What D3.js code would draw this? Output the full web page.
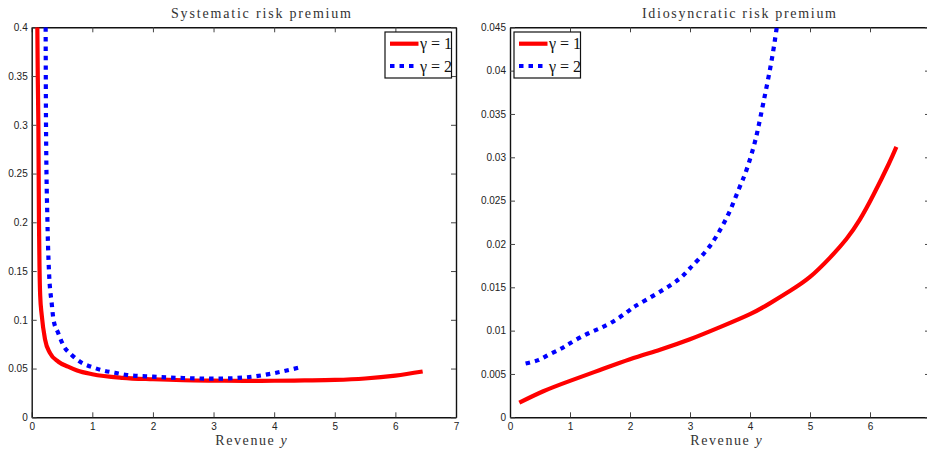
<!DOCTYPE html>
<html lang="en">
<head>
<meta charset="UTF-8">
<title>Risk premia</title>
<script src="https://d3js.org/d3.v7.min.js"></script>
<style>
    body { margin: 0; background: white; }
    svg { display: block; }
    .tick text { font-family: 'Liberation Sans', Arial, sans-serif; font-size: 10px; fill: #222; }
    .title { font-family: 'Liberation Serif', 'DejaVu Serif', serif; font-size: 14px; fill: #333; }
    .xlabel { font-family: 'Liberation Serif', 'DejaVu Serif', serif; font-size: 14px; fill: #333; }
    .legend-text { font-family: 'Liberation Serif', 'DejaVu Serif', serif; font-size: 16px; fill: #111; }
</style>
</head>
<body>
<svg id="chart" width="927" height="452"></svg>
<script>
// ---- data ----
// systematic risk premium
const sysX1 = [0.093, 0.10, 0.11, 0.115, 0.12, 0.13, 0.14, 0.165, 0.22, 0.30, 0.44, 0.60, 0.75, 1.0, 1.5, 2.0, 2.5, 3.0, 3.5, 4.0, 4.5, 5.0, 5.5, 6.0, 6.45];
const sysY1 = [0.40, 0.35, 0.30, 0.25, 0.20, 0.15, 0.125, 0.105, 0.08, 0.066, 0.057, 0.052, 0.048, 0.0442, 0.0405, 0.0390, 0.0380, 0.0376, 0.0374, 0.0375, 0.0378, 0.0383, 0.0398, 0.0428, 0.047];
const sysX2 = [0.23, 0.236, 0.26, 0.285, 0.33, 0.36, 0.44, 0.52, 0.66, 0.825, 1.02, 1.18, 1.37, 1.57, 2.0, 2.5, 3.0, 3.5, 4.0, 4.41];
const sysY2 = [0.40, 0.30, 0.20, 0.15, 0.117, 0.10, 0.086, 0.074, 0.064, 0.056, 0.051, 0.048, 0.0457, 0.0434, 0.0417, 0.0403, 0.0396, 0.0408, 0.0453, 0.051];
// idiosyncratic risk premium
const idiX1 = [0.155, 0.555, 1.0, 1.5, 2.0, 2.5, 3.0, 3.5, 4.0, 4.33, 4.67, 5.0, 5.33, 5.61, 5.83, 6.06, 6.31, 6.44];
const idiY1 = [0.00168, 0.0030, 0.0042, 0.00546, 0.0067, 0.0078, 0.0090, 0.0104, 0.0119, 0.01315, 0.0146, 0.0162, 0.0184, 0.0206, 0.0228, 0.0257, 0.0292, 0.0312];
const idiX2 = [0.26, 0.47, 0.64, 0.83, 1.0, 1.31, 1.67, 2.0, 2.17, 2.72, 3.0, 3.28, 3.5, 3.67, 3.83, 3.94, 4.06, 4.14, 4.22, 4.31, 4.39, 4.44, 4.47];
const idiY2 = [0.0062, 0.0066, 0.0072, 0.00785, 0.00854, 0.0097, 0.01085, 0.0124, 0.01315, 0.01546, 0.0172, 0.0193, 0.0216, 0.0239, 0.0266, 0.0285, 0.0312, 0.0335, 0.0362, 0.0393, 0.0424, 0.0447, 0.046];

const xTicks = [0, 1, 2, 3, 4, 5, 6, 7];
const sysTicks = [0, 0.05, 0.1, 0.15, 0.2, 0.25, 0.3, 0.35, 0.4];
const idiTicks = [0, 0.005, 0.01, 0.015, 0.02, 0.025, 0.03, 0.035, 0.04, 0.045];
const legendLabels = ["\u03b3 = 1", "\u03b3 = 2"];

const svg = d3.select("#chart");

function zip(xs, ys) { return xs.map((x, i) => [x, ys[i]]); }

function drawPanel(opt) {
    const x = d3.scaleLinear().domain([0, 7]).range([opt.left, opt.right]);
    const y = d3.scaleLinear().domain([0, opt.ymax]).range([417.3, 27.3]);
    const g = svg.append("g");

    const clipId = "clip-" + opt.id;
    g.append("clipPath").attr("id", clipId)
        .append("rect")
        .attr("x", opt.left).attr("y", 27.3)
        .attr("width", opt.right - opt.left).attr("height", 390);

    // ticks that fall off the page get no label
    const shownX = xTicks.filter(d => x(d) < 920);

    // axes, matlab style (ticks inward on all sides)
    g.append("g").attr("transform", "translate(0,417.3)")
        .call(d3.axisBottom(x).tickValues(shownX).tickSizeInner(-5).tickSizeOuter(0).tickPadding(6).tickFormat(d3.format("d")));
    g.append("g").attr("transform", "translate(0,27.3)")
        .call(d3.axisTop(x).tickValues(xTicks).tickSizeInner(-5).tickSizeOuter(0).tickFormat(""));
    g.append("g").attr("transform", `translate(${opt.left},0)`)
        .call(d3.axisLeft(y).tickValues(opt.ticks).tickSizeInner(-5).tickSizeOuter(0).tickPadding(4).tickFormat(d => d3.format("")(+d.toFixed(4))));
    g.append("g").attr("transform", `translate(${opt.right},0)`)
        .call(d3.axisRight(y).tickValues(opt.ticks).tickSizeInner(-5).tickSizeOuter(0).tickFormat(""));
    g.selectAll(".domain").attr("stroke", "#111").attr("stroke-width", 1.4);
    g.selectAll(".tick line").attr("stroke", "#444");

    const line = d3.line().x(d => x(d[0])).y(d => y(d[1])).curve(opt.curve);
    const plot = g.append("g").attr("clip-path", `url(#${clipId})`);
    plot.append("path").datum(zip(opt.x1, opt.y1))
        .attr("d", line).attr("fill", "none").attr("stroke", "#ff0000").attr("stroke-width", 4.2);
    plot.append("path").datum(zip(opt.x2, opt.y2))
        .attr("d", line).attr("fill", "none").attr("stroke", "#0000ff").attr("stroke-width", 4.2)
        .attr("stroke-dasharray", "4.5,5");

    // title + x label
    g.append("text").attr("class", "title").attr("x", opt.titleX).attr("y", 18)
        .attr("text-anchor", "middle").attr("textLength", opt.titleW).attr("lengthAdjust", "spacing")
        .text(opt.title);
    const xl = g.append("text").attr("class", "xlabel").attr("x", opt.labelX).attr("y", 445)
        .attr("text-anchor", "middle");
    xl.append("tspan").attr("letter-spacing", "1.6px").text("Revenue ");
    xl.append("tspan").attr("font-style", "italic").text("y");

    // legend
    const lg = g.append("g");
    lg.append("rect").attr("x", opt.legX).attr("y", 32).attr("width", 66.5).attr("height", 46)
        .attr("fill", "white").attr("stroke", "#111").attr("stroke-width", 1.2);
    const colors = ["#ff0000", "#0000ff"];
    legendLabels.forEach((lab, i) => {
        const yy = 43.7 + i * 22.3;
        lg.append("line").attr("x1", opt.legX + 5).attr("x2", opt.legX + 33.5)
            .attr("y1", yy).attr("y2", yy)
            .attr("stroke", colors[i]).attr("stroke-width", 4.2)
            .attr("stroke-dasharray", i ? "4.5,5" : null);
        lg.append("text").attr("class", "legend-text").attr("x", opt.legX + 35).attr("y", yy + 5.5)
            .text(lab);
    });
}

drawPanel({
    id: "sys", left: 31.7, right: 456, ymax: 0.4, ticks: sysTicks, curve: d3.curveMonotoneX,
    x1: sysX1, y1: sysY1, x2: sysX2, y2: sysY2,
    title: "Systematic risk premium", titleX: 261, titleW: 180, labelX: 251, legX: 385
});
drawPanel({
    id: "idi", left: 510, right: 930, ymax: 0.045, ticks: idiTicks, curve: d3.curveNatural,
    x1: idiX1, y1: idiY1, x2: idiX2, y2: idiY2,
    title: "Idiosyncratic risk premium", titleX: 739, titleW: 194, labelX: 726, legX: 514
});
</script>
</body>
</html>
